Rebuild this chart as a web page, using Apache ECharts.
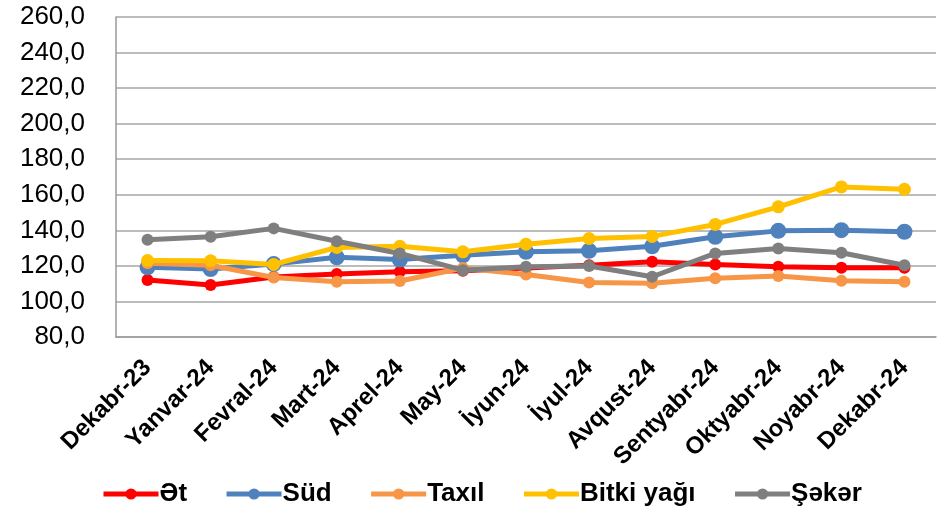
<!DOCTYPE html>
<html><head><meta charset="utf-8">
<script src="https://cdn.jsdelivr.net/npm/echarts@6/dist/echarts.min.js"></script>
<style>html,body{margin:0;padding:0;background:#fff}#c{width:944px;height:510px}</style>
</head><body><div id="c"></div>
<script>
const categories = ["Dekabr-23","Yanvar-24","Fevral-24","Mart-24","Aprel-24","May-24","İyun-24","İyul-24","Avqust-24","Sentyabr-24","Oktyabr-24","Noyabr-24","Dekabr-24"];
const et = [112.0,109.2,113.7,115.4,116.7,117.2,118.8,120.4,122.3,120.8,119.5,118.9,118.9];
const sud = [119.2,118.2,121.0,124.8,123.6,126.0,127.9,128.5,131.0,136.4,139.7,140.1,139.2];
const taxil = [121.5,120.4,113.5,111.1,111.5,118.8,115.2,110.7,110.2,113.0,114.3,111.6,111.1];
const bitki = [123.0,122.9,120.8,130.4,131.0,127.9,132.2,135.4,136.6,143.3,153.2,164.4,163.1];
const seker = [134.7,136.4,141.1,133.9,127.0,117.6,119.5,119.9,113.9,127.0,129.8,127.4,120.4];
const yTicks = ["80,0","100,0","120,0","140,0","160,0","180,0","200,0","220,0","240,0","260,0"];
const seriesNames = ["Ət","Süd","Taxıl","Bitki yağı","Şəkər"];
const colors = ["#FF0000","#4F81BD","#F79646","#FFC000","#7F7F7F"];
const symSizes = [12,16,12,13,12];
const data = [et,sud,taxil,bitki,seker];

const chart = echarts.init(document.getElementById('c'));
chart.setOption({
  animation:false,
  color: colors,
  grid:{left:116,right:8,top:17,bottom:173},
  legend:{
    data: seriesNames, top:476, left:96, itemWidth:55, itemHeight:14, itemGap:37,
    lineStyle:{width:5},
    textStyle:{fontFamily:'Liberation Sans, Arial',fontWeight:'bold',fontSize:26,color:'#000',padding:[0,0,0,-4]}
  },
  xAxis:{
    type:'category', data:categories, boundaryGap:true,
    axisLine:{lineStyle:{color:'#9a9a9a',width:1.5}},
    axisTick:{show:false},
    axisLabel:{rotate:45,interval:0,margin:27,fontFamily:'Liberation Sans, Arial',fontWeight:'bold',fontSize:24,color:'#000'}
  },
  yAxis:{
    type:'value', min:80, max:260, interval:20,
    axisLine:{show:true,lineStyle:{color:'#9a9a9a',width:1.5}},
    axisTick:{show:false},
    splitLine:{lineStyle:{color:'#a6a6a6',width:1.5}},
    axisLabel:{margin:31,fontFamily:'Liberation Sans, Arial',fontSize:26,color:'#000',formatter:v=>yTicks[Math.round((v-80)/20)]}
  },
  series: seriesNames.map((n,i)=>({
    name:n, type:'line', data:data[i], symbol:'circle', symbolSize:symSizes[i],
    lineStyle:{width:5,color:colors[i]}, itemStyle:{color:colors[i]}, z:2+i
  }))
});
</script></body></html>
